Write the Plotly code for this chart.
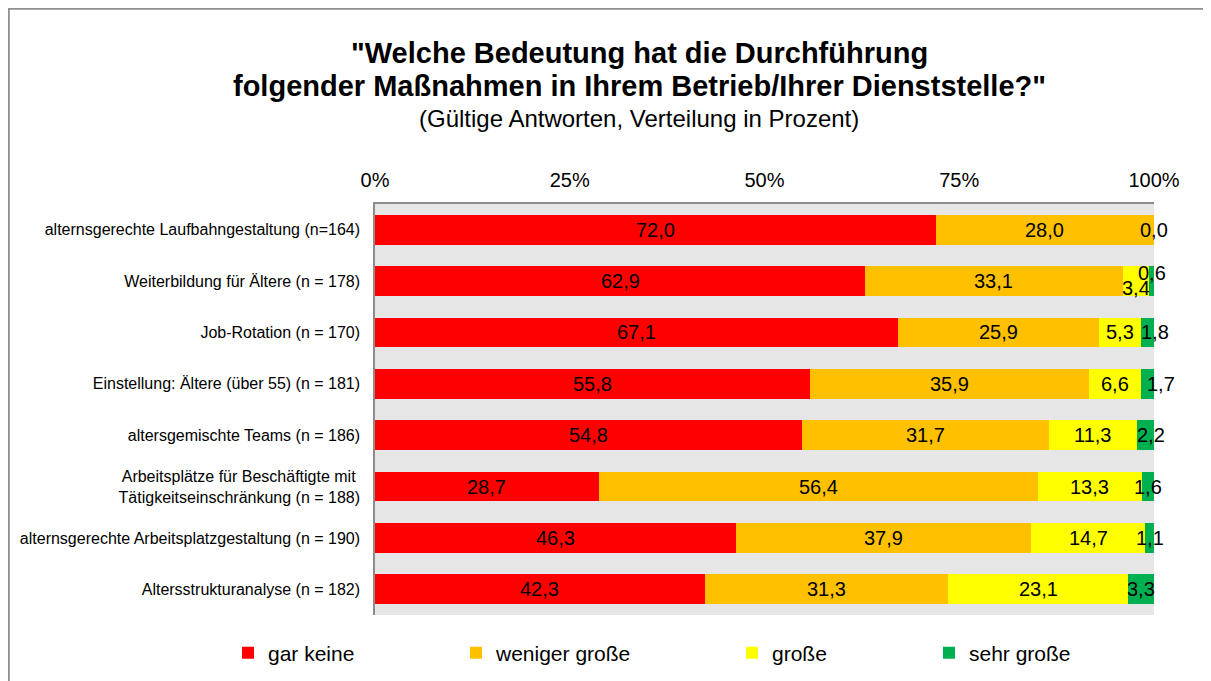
import plotly.graph_objects as go

categories = [
    "alternsgerechte Laufbahngestaltung (n=164)",
    "Weiterbildung für Ältere (n = 178)",
    "Job-Rotation (n = 170)",
    "Einstellung: Ältere (über 55) (n = 181)",
    "altersgemischte Teams (n = 186)",
    "Arbeitsplätze für Beschäftigte mit <br>Tätigkeitseinschränkung (n = 188)",
    "alternsgerechte Arbeitsplatzgestaltung (n = 190)",
    "Altersstrukturanalyse (n = 182)",
]
gar_keine = [72.0, 62.9, 67.1, 55.8, 54.8, 28.7, 46.3, 42.3]
weniger_grosse = [28.0, 33.1, 25.9, 35.9, 31.7, 56.4, 37.9, 31.3]
grosse = [0.0, 3.4, 5.3, 6.6, 11.3, 13.3, 14.7, 23.1]
sehr_grosse = [0.0, 0.6, 1.8, 1.7, 2.2, 1.6, 1.1, 3.3]

series_names = ["gar keine", "weniger große", "große", "sehr große"]
series_values = [gar_keine, weniger_grosse, grosse, sehr_grosse]
colors = ["#ff0000", "#ffc000", "#ffff00", "#00b050"]
tick_vals = [0, 25, 50, 75, 100]
tick_text = ["0%", "25%", "50%", "75%", "100%"]

# page has an 8px body margin; work in page pixels and convert
OFF = 8
W, H = 1211 - OFF, 681 - OFF
PLOT_L, PLOT_R, PLOT_T, PLOT_B = 375, 1154, 204, 615  # page pixels
L, R, T, B = PLOT_L - OFF, (W + OFF) - PLOT_R, PLOT_T - OFF, (H + OFF) - PLOT_B
PW, PH = PLOT_R - PLOT_L, PLOT_B - PLOT_T


def px2x(p):
    return (p - PLOT_L) / PW


def py2y(p):
    return (PLOT_B - p) / PH


FONT = "Liberation Sans, Arial, sans-serif"

fig = go.Figure()
legend_ids = ["legend", "legend2", "legend3", "legend4"]
for name, vals, col, lid in zip(series_names, series_values, colors, legend_ids):
    fig.add_trace(go.Bar(
        y=categories, x=vals, name=name, orientation="h",
        marker=dict(color=col, line=dict(width=0)),
        legend=lid, hoverinfo="x+name",
    ))

# manual label nudges (pixels) as placed in the original chart: (row, series) -> (xshift, yshift)
label_nudges = {(1, 2): (0, -7), (1, 3): (0, 8), (2, 3): (7, 0), (3, 3): (14, 0), (4, 3): (6, 0)}

annotations = []
for si, vals in enumerate(series_values):
    for ci, cat in enumerate(categories):
        start = sum(series_values[k][ci] for k in range(si))
        mid = start + vals[ci] / 2
        if vals[ci] == 0 and si == 3:
            continue
        xs, ys = label_nudges.get((ci, si), (0, 0))
        annotations.append(dict(
            x=mid, y=cat, xref="x", yref="y",
            text=f"{vals[ci]:.1f}".replace(".", ","),
            showarrow=False, xshift=xs, yshift=ys,
            font=dict(family=FONT, size=20, color="#000000"),
        ))

# titles
annotations += [
    dict(x=px2x(639), y=py2y(53), xref="paper", yref="paper",
         text="<b>\"Welche Bedeutung hat die Durchführung</b>", showarrow=False,
         font=dict(family=FONT, size=29, color="#000000"), xanchor="center", yanchor="middle"),
    dict(x=px2x(639), y=py2y(85.5), xref="paper", yref="paper",
         text="<b>folgender Maßnahmen in Ihrem Betrieb/Ihrer Dienststelle?\"</b>", showarrow=False,
         font=dict(family=FONT, size=29, color="#000000"), xanchor="center", yanchor="middle"),
    dict(x=px2x(639), y=py2y(119), xref="paper", yref="paper",
         text="(Gültige Antworten, Verteilung in Prozent)", showarrow=False,
         font=dict(family=FONT, size=24, color="#000000"), xanchor="center", yanchor="middle"),
]

shapes = [
    dict(type="line", xref="paper", yref="paper", x0=px2x(8.8), x1=px2x(8.8),
         y0=py2y(8), y1=py2y(720), line=dict(color="#8f8f8f", width=2)),
    dict(type="line", xref="paper", yref="paper", x0=px2x(8), x1=px2x(1260),
         y0=py2y(8.8), y1=py2y(8.8), line=dict(color="#8f8f8f", width=2)),
]

legend_px = [228, 456, 732, 929]
legend_common = dict(orientation="h", yanchor="middle", xanchor="left",
                     bgcolor="rgba(0,0,0,0)", font=dict(family=FONT, size=21, color="#000000"),
                     itemclick=False)
layout_legends = {}
for lid, px in zip(legend_ids, legend_px):
    layout_legends[lid] = dict(x=px2x(px), y=py2y(653), **legend_common)

fig.update_layout(
    width=W, height=H,
    margin=dict(l=L, r=R, t=T, b=B, autoexpand=False),
    barmode="stack", bargap=0.42,
    paper_bgcolor="white", plot_bgcolor="#e6e6e6",
    font=dict(family=FONT, color="#000000"),
    xaxis=dict(range=[0, 100], side="top", tickvals=tick_vals, ticktext=tick_text,
               showgrid=False, zeroline=False, showline=True, linecolor="#8c8c8c", linewidth=1.5,
               ticks="", ticklabelstandoff=7, tickfont=dict(family=FONT, size=20, color="#000000"),
               fixedrange=True),
    yaxis=dict(autorange="reversed", showgrid=False, zeroline=False, showline=True,
               linecolor="#8c8c8c", linewidth=1.5, ticks="", ticklabelstandoff=10,
               tickfont=dict(family=FONT, size=16, color="#000000"), fixedrange=True),
    annotations=annotations, shapes=shapes,
    showlegend=True,
    **layout_legends,
)

fig.write_html("out.html")
